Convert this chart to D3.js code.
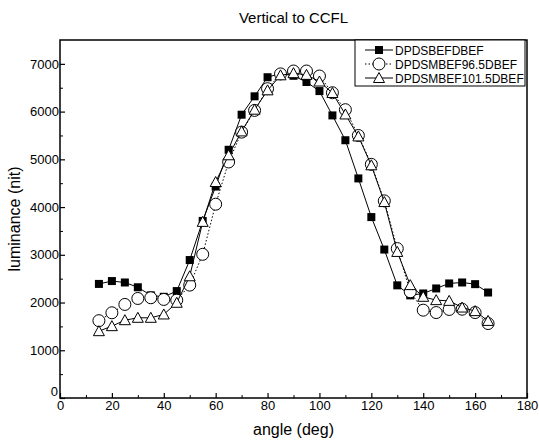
<!DOCTYPE html>
<html>
<head>
<meta charset="utf-8">
<script src="https://cdn.jsdelivr.net/npm/d3@7"></script>
<style>
  body { margin: 0; background: #fff; }
  svg text { font-family: "Liberation Sans", Arial, sans-serif; fill: #000; }
</style>
</head>
<body>
<svg id="chartSVG" width="539" height="443"></svg>
<script>
// angles (deg)
var angles = [15, 20, 25, 30, 35, 40, 45, 50, 55, 60, 65, 70, 75, 80, 85, 90,
  95, 100, 105, 110, 115, 120, 125, 130, 135, 140, 145, 150, 155, 160, 165];

var sbefValues = [2390, 2450, 2420, 2320, 2150, 2120, 2240, 2890, 3710, 4430, 5200,
  5935, 6320, 6720, 6800, 6750, 6620, 6430, 5920, 5400, 4600, 3790, 3110, 2360,
  2150, 2190, 2295, 2400, 2420, 2385, 2210];

var mbef965Values = [1620, 1785, 1960, 2085, 2100, 2065, 2050, 2365, 3010, 4060, 4945,
  5570, 6025, 6480, 6790, 6850, 6850, 6745, 6395, 6040, 5500, 4895, 4130, 3130,
  2225, 1840, 1790, 1855, 1860, 1790, 1560];

var mbef1015Values = [1400, 1505, 1630, 1680, 1680, 1750, 1995, 2550, 3690, 4525, 5085,
  5585, 6040, 6445, 6760, 6805, 6770, 6630, 6390, 5940, 5480, 4875, 4105, 3060,
  2365, 2120, 2050, 2035, 1895, 1820, 1615];

var seriesNames = ["DPDSBEFDBEF", "DPDSMBEF96.5DBEF", "DPDSMBEF101.5DBEF"];
var xTicks = [0, 20, 40, 60, 80, 100, 120, 140, 160, 180];
var yTicks = [0, 1000, 2000, 3000, 4000, 5000, 6000, 7000];

drawChart("#chartSVG");

function drawChart(elm) {
  var svg = d3.select(elm);
  var margin = { top: 40, right: 12, bottom: 45, left: 60 },
    width = 539 - margin.left - margin.right,
    height = 443 - margin.top - margin.bottom;

  var x = d3.scaleLinear().domain([0, 180]).range([margin.left, margin.left + width]);
  var y = d3.scaleLinear().domain([0, 7500]).range([margin.top + height, margin.top]);

  // frame
  svg.append("rect")
    .attr("x", margin.left).attr("y", margin.top)
    .attr("width", width).attr("height", height)
    .attr("fill", "none").attr("stroke", "#000").attr("stroke-width", 1.5);

  // minor ticks
  svg.append("g")
    .attr("transform", `translate(0,${margin.top + height})`)
    .call(d3.axisBottom(x).tickValues(d3.range(10, 180, 20)).tickSize(-3).tickFormat(""))
    .call(g => g.select(".domain").remove());
  svg.append("g")
    .attr("transform", `translate(${margin.left},0)`)
    .call(d3.axisLeft(y).tickValues(d3.range(500, 7500, 1000)).tickSize(-3).tickFormat(""))
    .call(g => g.select(".domain").remove());

  // major ticks + labels
  var xAxis = svg.append("g")
    .attr("transform", `translate(0,${margin.top + height})`)
    .call(d3.axisBottom(x).tickValues(xTicks).tickSize(-5).tickPadding(3));
  var yAxis = svg.append("g")
    .attr("transform", `translate(${margin.left},0)`)
    .call(d3.axisLeft(y).tickValues(yTicks).tickSize(-5).tickPadding(1).tickFormat(d3.format("d")));
  [xAxis, yAxis].forEach(function (g) {
    g.select(".domain").remove();
    g.selectAll(".tick line").attr("stroke-width", 1.2);
    g.selectAll(".tick text").style("font-size", "13px").style("font-family", "'Liberation Sans', Arial, sans-serif");
  });
  // y "0" sits just above the x "0", as in the original
  yAxis.selectAll(".tick text").filter(d => d === 0).attr("dy", "-0.2em").attr("x", -2);

  // titles
  svg.append("text")
    .attr("x", margin.left + width / 2).attr("y", 23)
    .attr("text-anchor", "middle").style("font-size", "15px")
    .text("Vertical to CCFL");
  svg.append("text")
    .attr("x", margin.left + width / 2).attr("y", 435)
    .attr("text-anchor", "middle").style("font-size", "16px")
    .text("angle (deg)");
  svg.append("text")
    .attr("transform", `translate(20,${margin.top + height / 2}) rotate(-90)`)
    .attr("text-anchor", "middle").style("font-size", "16px")
    .text("luminance (nit)");

  var line = d3.line()
    .x(function (d) { return x(d[0]); })
    .y(function (d) { return y(d[1]); });

  var series = [
    { name: seriesNames[0], values: sbefValues, dash: null, symbol: "square" },
    { name: seriesNames[1], values: mbef965Values, dash: "1.5,2", symbol: "circle" },
    { name: seriesNames[2], values: mbef1015Values, dash: null, symbol: "triangle" }
  ];

  function drawSymbol(g, type, cx, cy) {
    if (type == "square") {
      g.append("rect").attr("x", cx - 4).attr("y", cy - 4)
        .attr("width", 8).attr("height", 8).attr("fill", "#000");
    } else if (type == "circle") {
      g.append("circle").attr("cx", cx).attr("cy", cy).attr("r", 6)
        .attr("fill", "#fff").attr("stroke", "#000").attr("stroke-width", 1);
    } else {
      g.append("path")
        .attr("d", `M${cx},${cy - 5.5}L${cx + 5.5},${cy + 4.5}L${cx - 5.5},${cy + 4.5}Z`)
        .attr("fill", "#fff").attr("stroke", "#000").attr("stroke-width", 1);
    }
  }

  series.forEach(function (s) {
    var pts = angles.map(function (a, i) { return [a, s.values[i]]; });
    var g = svg.append("g");
    g.append("path")
      .attr("d", line(pts))
      .attr("fill", "none").attr("stroke", "#000").attr("stroke-width", 1)
      .attr("stroke-dasharray", s.dash);
    pts.forEach(function (p) {
      drawSymbol(g, s.symbol, x(p[0]), y(p[1]));
    });
  });

  // legend
  var lg = svg.append("g");
  lg.append("rect")
    .attr("x", 355).attr("y", margin.top).attr("width", 170).attr("height", 46)
    .attr("fill", "#fff").attr("stroke", "#000").attr("stroke-width", 1);
  series.forEach(function (s, i) {
    var cy = 50 + i * 14;
    lg.append("line")
      .attr("x1", 365).attr("x2", 393).attr("y1", cy).attr("y2", cy)
      .attr("stroke", "#000").attr("stroke-width", 1)
      .attr("stroke-dasharray", s.dash);
    drawSymbol(lg, s.symbol, 379, cy);
    lg.append("text")
      .attr("x", 395).attr("y", cy + 4.5)
      .style("font-size", "12px")
      .text(s.name);
  });
}
</script>
</body>
</html>
